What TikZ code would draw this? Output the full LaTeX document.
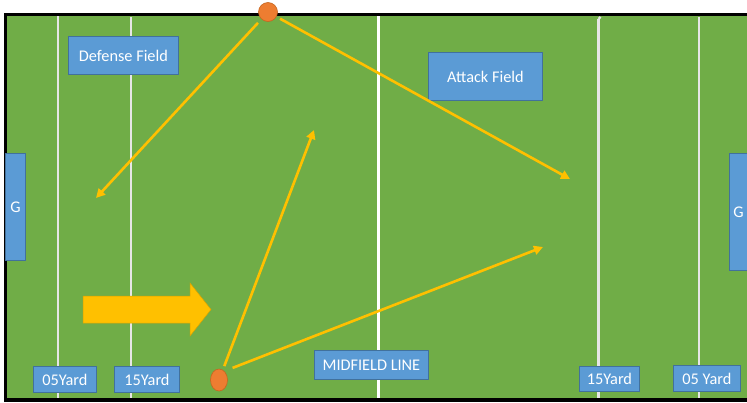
\documentclass[tikz,border=0pt]{standalone}
\usepackage{fontspec}
\setmainfont{Carlito}
\usetikzlibrary{arrows.meta}
\definecolor{fieldgreen}{HTML}{70AD47}
\definecolor{boxblue}{HTML}{5B9BD5}
\definecolor{boxedge}{HTML}{41719C}
\definecolor{ballorange}{HTML}{ED7D31}
\definecolor{balledge}{HTML}{C5651F}
\definecolor{arrowgold}{HTML}{FFC000}
\definecolor{lineshade}{HTML}{E6E6E6}
\tikzset{
  label box/.style={draw=boxedge, line width=0.8pt, fill=boxblue, text=white,
    font=\fontsize{16.3}{19}\selectfont, inner sep=0pt, anchor=north west},
  yardline/.style={draw=lineshade, line width=2.2pt},
  ball/.style={ellipse, fill=ballorange, draw=balledge, line width=0.6pt, inner sep=0pt},
  pass/.style={draw=arrowgold, line width=2.6pt,
    -{Triangle[length=9pt,width=9pt]}},
}
\usetikzlibrary{shapes.geometric}
\begin{document}
\begin{tikzpicture}[x=1pt,y=-1pt]
\useasboundingbox (0,0) rectangle (747,402);
% field
\fill[fieldgreen] (5,13) rectangle (747,400);
% yard lines
\draw[yardline] (58,13) -- (58,400);
\draw[yardline] (131,17) -- (131,400);
\draw[draw=white, line width=3pt] (378,13) -- (378,398);
\draw[yardline] (598.5,19) -- (598.5,400);
\draw[yardline] (598.5,19) -- (600.5,17);
\draw[yardline] (699,17) -- (699,400);
% borders
\draw[black, line width=3pt] (5,14) -- (747,14);
\draw[black, line width=3pt] (5.5,13) -- (5.5,402);
\draw[black, line width=4pt] (5,400) -- (747,400);
% labels
\node[label box, minimum width=110pt, minimum height=38pt] (defense) at (68,36) {Defense Field};
\node[label box, minimum width=114pt, minimum height=48pt] (attack) at (428,52) {Attack Field};
\node[label box, minimum width=20pt, minimum height=107pt] (gleft) at (5,153) {G};
\node[label box, minimum width=22pt, minimum height=117pt, align=left, text width=20pt] (gright) at (729,153) {\hspace*{3pt}G};
\node[label box, minimum width=63pt, minimum height=26pt] (yl05) at (33,366) {05Yard};
\node[label box, minimum width=65pt, minimum height=26pt] (yl15) at (114,366) {15Yard};
\node[label box, minimum width=114pt, minimum height=29pt] (mid) at (314,350) {MIDFIELD LINE};
\node[label box, minimum width=60pt, minimum height=25pt] (yr15) at (579,366) {15Yard};
\node[label box, minimum width=67pt, minimum height=26pt] (yr05) at (673,365) {05 Yard};
% big arrow
\fill[arrowgold, draw=arrowgold!85!black, line width=0.5pt]
  (83,296) -- (190,296) -- (190,283) -- (211,309.5) -- (190,336) -- (190,323) -- (83,323) -- cycle;
% balls
\node[ball, minimum width=19pt, minimum height=19pt] (balltop) at (268,12) {};
\node[ball, minimum width=17pt, minimum height=22pt] (ballbot) at (219,380) {};
% passes
\coordinate (t1) at (96,198);
\coordinate (t2) at (570,179);
\coordinate (t3) at (314,130);
\coordinate (t4) at (543,247);
\draw[pass, shorten <=5pt] (balltop) -- (t1);
\draw[pass, shorten <=4pt] (balltop) -- (t2);
\draw[pass, shorten <=4pt] (ballbot) -- (t3);
\draw[pass, shorten <=3pt] (ballbot.east) ++(2,-11) -- (t4);
\end{tikzpicture}
\end{document}
